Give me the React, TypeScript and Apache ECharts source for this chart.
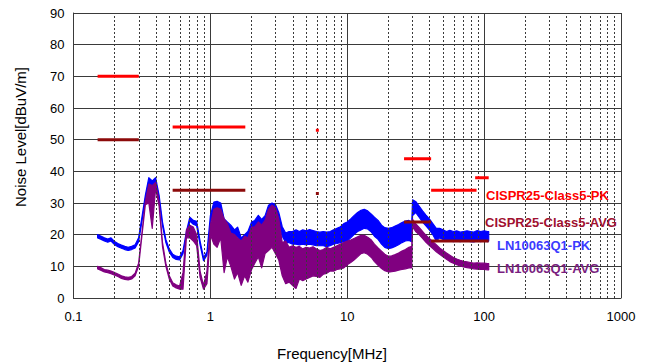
import React, { useEffect, useRef } from "react";
import * as echarts from "echarts";

// Frequencies (MHz) of the measured traces
const freqs = [
  0.15, 0.158, 0.168, 0.178, 0.188, 0.2, 0.211, 0.224, 0.237, 0.251, 0.266, 0.282, 0.299, 0.316, 0.335, 0.355, 0.376, 0.398, 0.422, 0.447, 0.473, 0.501, 0.531, 0.562, 0.596, 0.631, 0.668, 0.708, 0.75, 0.794, 0.841, 0.891, 0.944,
  1.0, 1.06, 1.12, 1.19, 1.26, 1.33, 1.41, 1.5, 1.58, 1.68, 1.78, 1.88, 2.0, 2.11, 2.24, 2.37, 2.51, 2.66, 2.82, 2.99, 3.16, 3.35, 3.55, 3.76, 3.98, 4.22, 4.47, 4.73, 5.01, 5.31, 5.62, 5.96, 6.31, 6.68, 7.08, 7.5, 7.94, 8.41, 8.91, 9.44,
  10, 10.6, 11.2, 11.9, 12.6, 13.3, 14.1, 15, 15.8, 16.8, 17.8, 18.8, 20, 21.1, 22.4, 23.7, 25.1, 26.6, 28.2, 29.6, 30, 31.6, 33.5, 35.5, 37.6, 39.8, 42.2, 44.7, 47.3, 50.1, 53.1, 56.2, 59.6, 63.1, 66.8, 70.8, 75, 79.4, 84.1, 89.1, 94.4, 100, 106, 108,
];

// LN10063Q1-PK trace: upper / lower edge of the noisy band (dBuV/m)
const pkHi = [
  20.0, 19.6, 19.0, 18.6, 19.0, 17.8, 17.2, 16.7, 16.3, 16.0, 16.3, 16.8, 19.0, 25.5, 32.5, 38.0, 37.0, 38.0, 32.5, 24.0, 18.5, 15.5, 13.8, 13.2, 13.0, 15.0, 21.0, 25.5, 24.5, 24.2, 18.0, 12.8, 14.5,
  26.0, 30.3, 30.5, 30.0, 25.0, 24.0, 23.0, 21.5, 22.4, 19.0, 20.0, 21.0, 24.0, 24.5, 26.1, 24.8, 26.0, 29.3, 30.0, 29.5, 27.0, 22.5, 20.5, 21.0, 21.0, 21.5, 21.0, 21.5, 21.2, 21.6, 21.3, 21.0, 20.8, 21.0, 20.8, 21.0, 21.5, 22.0, 22.5, 23.5,
  24.0, 25.0, 26.0, 27.0, 27.7, 28.0, 27.5, 26.5, 25.5, 24.5, 23.0, 22.2, 22.0, 22.2, 22.7, 23.2, 23.8, 24.3, 24.5, 24.0, 31.0, 30.5, 29.0, 27.5, 26.2, 25.0, 23.5, 22.0, 22.0, 21.5, 21.0, 21.4, 21.0, 21.2, 20.8, 21.0, 21.2, 21.0, 20.8, 21.3, 21.0, 21.2, 21.0, 21.0,
];
const pkLo = [
  19.0, 18.6, 18.0, 17.6, 18.0, 16.8, 16.2, 15.7, 15.3, 15.0, 15.3, 15.8, 17.8, 24.0, 31.0, 36.0, 35.0, 36.0, 31.0, 22.8, 17.5, 14.5, 12.8, 12.2, 12.0, 14.0, 19.8, 24.3, 23.3, 22.8, 16.8, 11.8, 13.5,
  24.0, 27.0, 27.5, 27.0, 21.0, 20.5, 20.0, 18.5, 19.5, 16.5, 17.0, 18.0, 21.0, 21.5, 23.0, 21.5, 23.0, 26.0, 27.0, 26.5, 23.0, 19.5, 17.5, 17.5, 17.0, 17.0, 16.8, 17.0, 16.8, 17.0, 16.8, 16.5, 16.5, 16.5, 16.2, 16.5, 17.0, 17.2, 17.5, 17.8,
  18.0, 19.0, 20.0, 21.0, 21.5, 22.0, 21.8, 20.8, 19.5, 18.5, 17.0, 16.0, 15.6, 15.8, 16.3, 16.8, 17.5, 18.0, 18.2, 17.8, 26.0, 27.0, 25.5, 24.0, 22.8, 21.5, 20.0, 18.0, 19.0, 18.5, 18.0, 18.0, 17.8, 18.0, 17.8, 18.0, 18.0, 17.8, 17.7, 18.0, 17.8, 18.0, 17.8, 18.0,
];

// LN10063Q1-AVG trace: upper / lower edge of the noisy band (dBuV/m)
const avgHi = [
  10.0, 9.6, 9.0, 8.8, 8.5, 8.0, 7.6, 7.0, 6.7, 6.5, 6.8, 7.8, 11.0, 20.5, 30.5, 36.0, 35.5, 36.5, 30.5, 17.5, 11.0, 7.0, 4.8, 4.2, 3.8, 8.0, 21.5, 23.0, 22.4, 20.0, 8.5, 4.0, 8.5,
  23.0, 28.0, 28.5, 28.0, 25.0, 23.5, 20.5, 20.0, 19.0, 18.0, 19.5, 19.0, 22.4, 22.5, 24.0, 23.0, 24.5, 28.0, 29.3, 28.5, 25.0, 17.5, 18.0, 16.0, 16.5, 16.0, 16.3, 15.5, 16.0, 15.8, 16.2, 15.5, 15.0, 15.3, 16.0, 15.5, 16.0, 16.5, 17.0, 17.5,
  18.0, 18.3, 18.8, 19.3, 19.8, 19.8, 19.2, 18.3, 17.0, 15.8, 14.8, 13.8, 13.2, 13.3, 13.7, 14.2, 14.8, 15.3, 16.0, 16.3, 24.8, 23.5, 22.3, 21.0, 19.8, 18.8, 17.8, 16.8, 15.8, 15.0, 14.2, 13.5, 12.8, 12.3, 11.9, 11.6, 11.4, 11.2, 11.0, 11.1, 11.0, 11.0, 10.9, 10.9,
];
const avgLo = [
  9.2, 8.8, 8.2, 8.0, 7.7, 7.2, 6.8, 6.2, 5.9, 5.7, 6.0, 7.0, 10.0, 19.5, 29.5, 30.0, 22.0, 34.5, 29.0, 16.2, 10.0, 6.0, 3.8, 3.2, 2.8, 2.8, 19.0, 19.0, 18.0, 16.5, 6.5, 2.8, 4.5,
  20.0, 17.0, 16.0, 19.0, 8.0, 13.0, 10.0, 6.0, 8.0, 4.0, 7.0, 5.0, 9.0, 11.0, 13.0, 9.5, 14.0, 15.0, 16.0, 14.0, 12.0, 7.0, 4.5, 5.0, 4.0, 3.0, 6.0, 5.5, 6.0, 6.5, 7.0, 6.8, 6.5, 7.5, 7.8, 8.5, 8.5, 9.0, 9.2, 9.5,
  10.5, 11.2, 12.0, 13.0, 14.0, 14.3, 13.8, 12.8, 11.5, 10.3, 9.3, 8.6, 8.2, 8.3, 8.5, 8.8, 9.0, 9.2, 9.5, 9.5, 22.5, 21.0, 20.0, 18.8, 17.6, 16.6, 15.6, 14.6, 13.8, 13.0, 12.2, 11.5, 11.0, 10.5, 10.1, 9.8, 9.6, 9.4, 9.2, 9.1, 9.0, 9.0, 8.9, 8.9,
];

// CISPR25 Class 5 limits: [fStart, fEnd, level]
const pkLimit = [
  [0.15, 0.3, 70],
  [0.53, 1.8, 54],
  [5.9, 6.2, 53],
  [26, 41, 44],
  [41, 88, 34],
  [86, 108, 38],
];
const avgLimit = [
  [0.15, 0.3, 50],
  [0.53, 1.8, 34],
  [5.9, 6.2, 33],
  [26, 41, 24],
  [41, 108, 18],
];

// Minor (dashed) vertical grid positions
const minorGrid = [
  0.2, 0.3, 0.4, 0.5, 0.6, 0.7, 0.8, 0.9,
  2, 3, 4, 5, 6, 7, 8, 9,
  20, 30, 40, 50, 60, 70, 80, 90,
  200, 300, 400, 500, 600, 700, 800, 900,
];

const legendLabels = [
  "CISPR25-Class5-PK",
  "CISPR25-Class5-AVG",
  "LN10063Q1-PK",
  "LN10063Q1-AVG",
];
const xAxisTitle = "Frequency[MHz]";
const yAxisTitle = "Noise Level[dBuV/m]";

const FONT = '"Liberation Sans", Arial, sans-serif';
const C_PK = "#ff0000";
const C_AVG = "#8c0a0a";
const C_BLUE = "#0000ff";
const C_PURPLE = "#800080";
const GRID_C = "#3a3a3a";

function bandSeries(name: string, hi: number[], lo: number[], color: string, z: number) {
  return {
    type: "custom",
    name,
    coordinateSystem: "cartesian2d",
    silent: true,
    z,
    data: [[freqs[0], hi[0]]],
    renderItem: (_params: any, api: any) => {
      const pts: number[][] = [];
      for (let i = 0; i < freqs.length; i++) pts.push(api.coord([freqs[i], hi[i]]));
      for (let i = freqs.length - 1; i >= 0; i--) pts.push(api.coord([freqs[i], lo[i]]));
      return {
        type: "polygon",
        shape: { points: pts },
        style: { fill: color, stroke: color, lineWidth: 1.2, lineJoin: "round" },
      };
    },
  };
}

function limitSeries(segs: number[][], color: string, prefix: string) {
  return segs.map((s, i) => ({
    type: "line",
    name: prefix + i,
    silent: true,
    z: 5,
    symbol: "none",
    lineStyle: { color, width: 3, cap: "butt" },
    data: [
      [s[0], s[2]],
      [s[1], s[2]],
    ],
  }));
}

export default function App() {
  const ref = useRef<HTMLDivElement>(null);
  useEffect(() => {
    if (!ref.current) return;
    const chart = echarts.init(ref.current, undefined, { renderer: "svg" });
    const labelY = [195, 222, 245, 268];
    const labelX = [486, 485, 497, 497];
    const labelC = [C_PK, "#a01030", "#3b3bff", "#7a1f80"];
    chart.setOption({
      animation: false,
      backgroundColor: "#ffffff",
      textStyle: { fontFamily: FONT },
      grid: { left: 73.5, right: 31, top: 13, bottom: 66, outerBoundsMode: "none", containLabel: false },
      xAxis: {
        type: "log",
        logBase: 10,
        min: 0.1,
        max: 1000,
        axisLine: { show: true, lineStyle: { color: GRID_C, width: 1 } },
        axisTick: { show: false },
        splitLine: { show: true, lineStyle: { color: GRID_C, width: 1 } },
        axisLabel: {
          color: "#000",
          fontSize: 13,
          fontFamily: FONT,
          margin: 12,
          showMinLabel: true,
          showMaxLabel: true,
          formatter: (v: number) => (v < 1 ? v.toFixed(1) : String(Math.round(v))),
        },
      },
      yAxis: {
        type: "value",
        min: 0,
        max: 90,
        interval: 10,
        axisLine: { show: true, lineStyle: { color: GRID_C, width: 1 } },
        axisTick: { show: false },
        splitLine: { show: true, lineStyle: { color: GRID_C, width: 1 } },
        axisLabel: { color: "#000", fontSize: 13, fontFamily: FONT, margin: 9 },
      },
      graphic: [
        {
          type: "text",
          x: 332,
          y: 353,
          style: { text: xAxisTitle, fill: "#000", font: "15px " + FONT, align: "center", verticalAlign: "middle" },
        },
        {
          type: "text",
          x: 20,
          y: 137,
          rotation: Math.PI / 2,
          style: { text: yAxisTitle, fill: "#000", font: "15px " + FONT, align: "center", verticalAlign: "middle" },
        },
        ...legendLabels.map((t, i) => ({
          type: "text",
          x: labelX[i],
          y: labelY[i],
          z: 10,
          style: { text: t, fill: labelC[i], font: "bold 13px " + FONT, align: "left", verticalAlign: "middle" },
        })),
      ],
      series: [
        {
          type: "line",
          name: "minor-grid",
          silent: true,
          z: 1,
          symbol: "none",
          data: [],
          markLine: {
            silent: true,
            symbol: ["none", "none"],
            label: { show: false },
            lineStyle: { type: [2, 2], color: GRID_C, width: 1 },
            data: minorGrid.map((v) => ({ xAxis: v })),
          },
        },
        bandSeries(legendLabels[2], pkHi, pkLo, C_BLUE, 3),
        bandSeries(legendLabels[3], avgHi, avgLo, C_PURPLE, 4),
        ...limitSeries(pkLimit, C_PK, "pk"),
        ...limitSeries(avgLimit, C_AVG, "avg"),
      ],
    });
    return () => chart.dispose();
  }, []);
  return (
    <div
      ref={ref}
      style={{ position: "fixed", left: 0, top: 0, width: 652, height: 364, background: "#fff" }}
    />
  );
}
